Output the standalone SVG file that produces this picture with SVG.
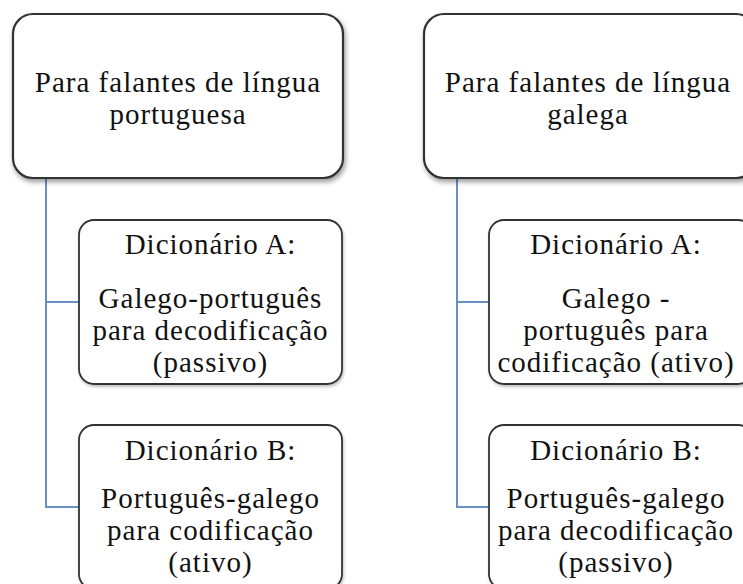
<svg xmlns="http://www.w3.org/2000/svg" width="743" height="584" viewBox="0 0 743 584">
<defs>
<filter id="sh" x="-10%" y="-10%" width="130%" height="130%">
<feDropShadow dx="1.5" dy="3" stdDeviation="2.5" flood-color="#000" flood-opacity="0.4"/>
</filter>
<filter id="sh2" x="-10%" y="-10%" width="130%" height="130%">
<feDropShadow dx="1" dy="2" stdDeviation="1.5" flood-color="#000" flood-opacity="0.25"/>
</filter>
</defs>
<style>
.top{fill:#fff;stroke:#333;stroke-width:2.2;filter:url(#sh)}
.child{fill:#fff;stroke:#333;stroke-width:1.8;filter:url(#sh2)}
.t{font-family:"Liberation Serif","Times New Roman",serif;font-size:29px;letter-spacing:1px;fill:#111;text-anchor:middle}
.c{fill:none;stroke:#6A8FC4;stroke-width:2}
</style>
<rect width="743" height="584" fill="#fff"/>
<g id="connectors">
<path class="c" d="M46 178 V507 H79 M46 302 H79"/>
<path class="c" d="M457 178 V507 H489 M457 302 H489"/>
</g>
<g id="node-pt">
<rect class="top" x="13" y="14" width="330" height="164" rx="20"/>
<text class="t"><tspan x="178" y="92">Para falantes de língua</tspan><tspan x="178" y="124">portuguesa</tspan></text>
</g>
<g id="node-gl">
<rect class="top" x="424" y="14" width="332" height="164" rx="20"/>
<text class="t"><tspan x="588" y="92">Para falantes de língua</tspan><tspan x="588" y="124">galega</tspan></text>
</g>
<g id="node-pt-a">
<rect class="child" x="79" y="220" width="263" height="164" rx="15"/>
<text class="t"><tspan x="210.5" y="254">Dicionário A:</tspan><tspan x="210.5" y="308">Galego-português</tspan><tspan x="210.5" y="340">para decodificação</tspan><tspan x="210.5" y="372">(passivo)</tspan></text>
</g>
<g id="node-pt-b">
<rect class="child" x="79" y="425" width="263" height="164" rx="15"/>
<text class="t"><tspan x="210.5" y="460">Dicionário B:</tspan><tspan x="210.5" y="508">Português-galego</tspan><tspan x="210.5" y="540">para codificação</tspan><tspan x="210.5" y="572">(ativo)</tspan></text>
</g>
<g id="node-gl-a">
<rect class="child" x="489" y="220" width="264" height="164" rx="15"/>
<text class="t"><tspan x="616" y="254">Dicionário A:</tspan><tspan x="616" y="308">Galego -</tspan><tspan x="616" y="340">português para</tspan><tspan x="616" y="372">codificação (ativo)</tspan></text>
</g>
<g id="node-gl-b">
<rect class="child" x="489" y="425" width="264" height="164" rx="15"/>
<text class="t"><tspan x="616" y="460">Dicionário B:</tspan><tspan x="616" y="508">Português-galego</tspan><tspan x="616" y="540">para decodificação</tspan><tspan x="616" y="572">(passivo)</tspan></text>
</g>
</svg>
